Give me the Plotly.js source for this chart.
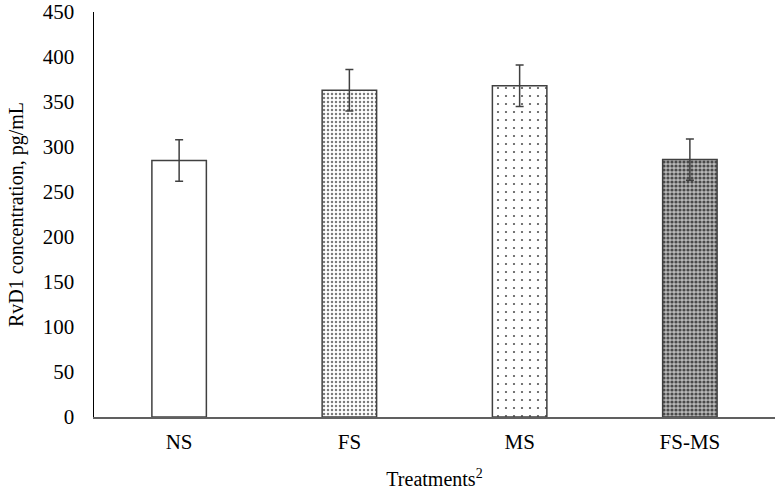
<!DOCTYPE html>
<html>
<head>
<meta charset="utf-8">
<script src="https://cdn.plot.ly/plotly-3.0.1.min.js"></script>
<style>html,body{margin:0;padding:0;background:#fff;}#chart{width:778px;height:490px;}</style>
</head>
<body>
<div id="chart"></div>
<script>
const categories = ["NS", "FS", "MS", "FS-MS"];
const values = [285, 363, 368, 286];
const errors = [23, 23, 23, 23];
const tickVals = [0, 50, 100, 150, 200, 250, 300, 350, 400, 450];

const patterns = [
  {shape: "", fgcolor: "#ffffff", bgcolor: "#ffffff"},
  {shape: ".", fgcolor: "#7a7a7a", bgcolor: "#ffffff", size: 4, solidity: 0.3},
  {shape: ".", fgcolor: "#555555", bgcolor: "#ffffff", size: 8, solidity: 0.06},
  {shape: ".", fgcolor: "#4a4a4a", bgcolor: "#b8b8b8", size: 4, solidity: 0.5}
];

const traces = categories.map((c, i) => ({
  type: "bar",
  x: [c],
  y: [values[i]],
  error_y: {type: "data", array: [errors[i]], visible: true, color: "#404040", thickness: 1.5, width: 4},
  marker: {color: "#ffffff", line: {color: "#404040", width: 1.5}, pattern: patterns[i]},
  showlegend: false,
  hoverinfo: "none"
}));

const layout = {
  width: 778, height: 490,
  margin: {l: 94, r: 3, t: 12, b: 73},
  paper_bgcolor: "#ffffff", plot_bgcolor: "#ffffff",
  font: {family: "Liberation Serif, Times New Roman, serif", color: "#000000", size: 21},
  bargap: 0.68,
  xaxis: {
    categoryorder: "array", categoryarray: categories,
    showline: true, linecolor: "#606060", linewidth: 1.5,
    ticks: "", showgrid: false, zeroline: false,
    tickfont: {size: 21}, ticklabelstandoff: 5,
    title: {text: "Treatments<sup>2</sup>", font: {size: 20}, standoff: 21}
  },
  yaxis: {
    range: [0, 450], tickvals: tickVals, ticktext: tickVals.map(String),
    showline: true, linecolor: "#000000", linewidth: 1.5,
    ticks: "", showgrid: false, zeroline: false,
    tickfont: {size: 21}, ticklabelstandoff: 14,
    title: {text: "RvD1 concentration, pg/mL", font: {size: 20}, standoff: 14}
  }
};

Plotly.newPlot("chart", traces, layout, {displayModeBar: false, staticPlot: true});
</script>
</body>
</html>
